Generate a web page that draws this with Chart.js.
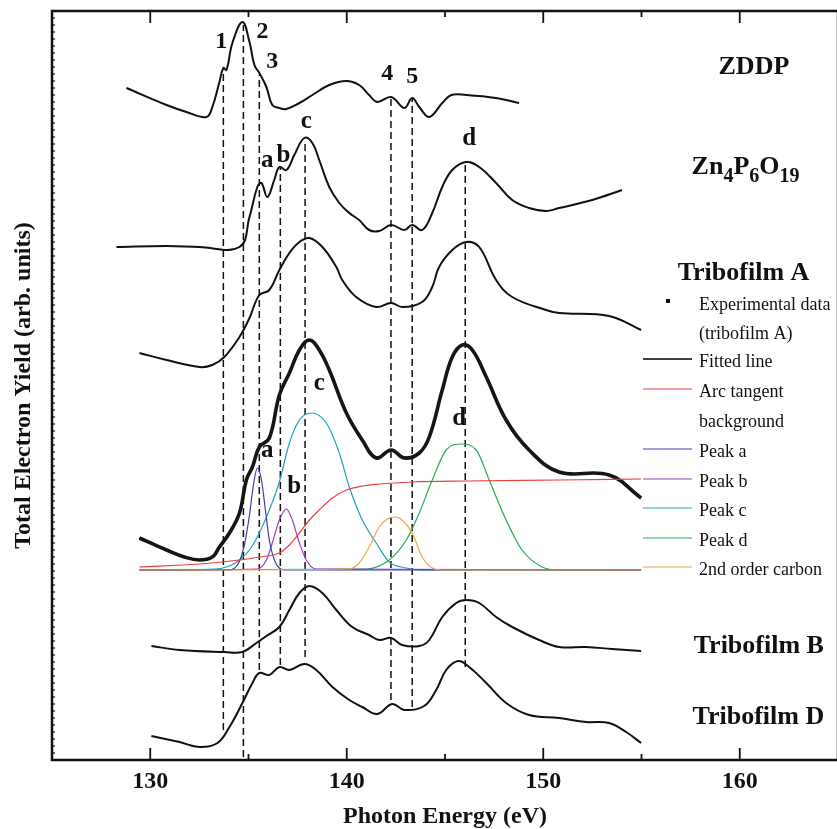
<!DOCTYPE html>
<html>
<head>
<meta charset="utf-8">
<script src="https://cdn.jsdelivr.net/npm/chart.js@4.4.1/dist/chart.umd.min.js"></script>
<style>
  html, body { margin: 0; padding: 0; overflow: hidden; background: #fff; }
  #wrap { width: 845px; height: 829px; }
</style>
</head>
<body>
<div id="wrap"><canvas id="xas" width="845" height="829"></canvas></div>
<script>
// photon energy (eV) / total electron yield (arb. units, curves stacked with offsets)
const zddpE = [128.79,130.83,131.84,132.86,133.16,133.52,133.72,133.88,134.18,134.69,135.05,135.30,135.55,135.91,136.21,136.57,136.93,137.59,138.25,139.11,139.98,140.63,141.14,141.55,142.26,142.93,143.33,143.69,144.20,144.86,145.32,146.08,147.60,148.77];
const zddpY = [67.2,65.5,64.8,64.3,65.3,67.8,69.2,69.0,71.7,73.8,71.8,69.5,68.7,67.3,65.5,65.2,65.1,65.7,66.5,67.5,67.9,67.5,66.5,65.8,66.3,65.2,66.2,65.3,64.3,65.7,66.5,66.5,66.2,65.7];

const znpE = [128.28,130.83,132.50,134.54,135.05,135.45,135.66,135.96,136.31,136.57,136.93,137.33,137.84,138.25,138.60,139.11,139.62,140.13,140.63,141.14,141.65,142.26,142.93,143.33,143.84,144.35,144.86,145.37,146.08,146.74,147.60,148.42,149.28,150.14,150.81,152.49,154.01];
const znpY = [51.3,51.4,51.3,51.3,54.3,57.3,57.7,56.3,58.0,59.3,59.0,60.5,62.2,61.7,60.0,57.3,55.7,54.7,54.0,53.0,52.9,53.5,53.0,53.5,53.0,54.7,57.3,59.0,59.8,59.3,57.7,56.0,55.2,54.9,55.2,56.0,57.0];

const triboAE = [129.45,130.83,132.50,133.16,133.77,134.54,135.05,135.55,136.06,136.57,137.08,137.59,138.10,138.76,139.47,139.77,140.48,141.50,142.26,142.82,143.84,144.35,144.70,145.37,146.08,146.74,147.60,148.42,150.14,150.81,153.35,154.98];
const triboAY = [40.7,40.0,39.3,39.5,40.3,42.3,44.2,46.5,47.0,49.0,50.7,51.8,52.2,51.3,49.3,48.0,46.3,45.3,45.7,45.3,45.8,47.3,49.3,51.0,51.8,51.3,48.0,46.3,45.0,44.7,44.4,43.0];

// tribofilm A, experimental data and fit
const expE = [129.45,130.83,131.74,132.50,133.16,133.52,134.03,134.54,134.89,135.20,135.55,136.06,136.57,137.08,137.59,138.10,138.60,139.11,139.98,140.79,141.50,142.26,142.93,143.69,144.20,144.86,145.37,145.88,146.39,147.10,148.11,149.28,150.81,153.35,154.98];
const expY = [22.2,21.0,20.3,20.0,20.3,21.3,22.7,24.7,28.0,29.3,31.3,32.2,36.5,38.7,41.0,42.0,41.0,39.0,34.7,32.0,30.2,31.0,30.2,30.7,32.3,37.0,40.3,41.5,41.0,38.3,34.0,31.0,28.8,28.5,26.2];
const fitY = [22.2,21.0,20.3,20.0,20.3,21.3,22.7,24.7,28.0,29.3,31.3,32.2,36.5,38.7,41.0,42.0,41.0,39.0,34.7,32.0,30.3,30.9,30.3,30.7,32.3,37.0,40.3,41.5,41.0,38.3,34.0,31.0,28.8,28.5,26.2];

const arcE = [129.45,132.50,134.54,135.55,136.57,137.08,137.59,138.10,138.60,139.27,139.98,140.79,141.65,143.33,146.08,150.81,154.98];
const arcY = [19.3,19.6,20.0,20.3,20.7,21.5,22.7,24.0,25.0,26.2,27.0,27.4,27.6,27.8,27.9,28.0,28.1];

const peakAE = [129.45,133.93,134.44,134.79,135.05,135.25,135.45,135.66,135.86,136.06,136.36,136.83,154.98];
const peakAY = [19.0,19.0,19.5,21.5,24.5,27.5,29.2,28.0,25.0,22.0,19.8,19.0,19.0];
const peakBE = [129.45,135.45,135.91,136.21,136.57,136.93,137.23,137.59,137.94,138.45,154.98];
const peakBY = [19.0,19.1,20.0,21.7,24.0,25.1,24.0,21.7,20.0,19.1,19.0];
const peakCE = [129.45,133.27,134.03,134.54,135.05,135.55,136.06,136.57,137.08,137.59,138.20,138.96,139.62,140.13,140.79,141.50,142.16,143.03,143.84,154.98];
const peakCY = [19.0,19.1,19.4,20.0,21.0,22.7,25.0,27.8,31.7,34.0,34.7,33.7,30.7,27.3,24.0,21.7,19.8,19.2,19.0,19.0];
const peakDE = [129.45,140.99,142.16,143.03,143.69,144.35,145.06,145.82,146.59,147.25,148.11,148.92,149.94,150.81,154.98];
const peakDY = [19.0,19.1,20.0,22.0,24.7,28.0,31.0,31.6,31.0,28.0,24.0,21.0,19.3,19.0,19.0];
const carbonE = [129.45,140.13,140.63,141.14,141.65,142.06,142.47,142.87,143.33,143.84,144.35,144.86,154.98];
const carbonY = [19.0,19.1,19.7,21.3,23.3,24.1,24.3,23.9,22.7,20.3,19.2,19.0,19.0];

const triboBE = [130.06,131.49,133.77,134.69,135.40,135.91,136.57,137.08,137.59,138.10,138.76,139.47,140.28,141.14,141.65,142.26,142.82,143.69,144.20,144.86,145.57,146.08,146.74,147.60,148.42,149.79,150.81,152.18,153.51,154.98];
const triboBY = [11.4,11.0,10.8,10.8,11.7,12.4,13.3,15.0,16.7,17.4,16.7,15.0,13.3,12.5,12.0,12.2,11.5,11.4,12.0,14.3,15.7,16.0,15.7,14.3,13.3,12.0,11.3,11.3,11.1,10.9];

const triboDE = [130.06,131.49,132.50,133.42,134.03,134.69,135.20,135.55,136.06,136.57,137.08,137.84,138.45,139.27,140.13,140.79,141.55,142.31,142.93,143.94,144.55,145.06,145.67,146.23,147.10,148.11,149.28,150.81,152.18,153.35,154.22,154.98];
const triboDY = [2.4,1.8,1.3,1.7,3.3,5.7,7.7,8.7,8.5,9.3,9.0,9.6,9.0,7.3,6.0,5.3,4.6,5.6,5.0,5.4,7.0,9.0,9.9,9.3,7.7,5.7,4.5,4.2,3.8,3.7,2.8,1.7];

// dashed guide lines through the features
const markE = [133.72,134.74,135.55,136.62,137.88,142.25,143.33,146.03];
const markTop = [69.0,73.5,68.5,59.2,62.0,66.3,66.2,59.8];
const markBottom = [3.0,0.3,9.0,9.5,10.3,6.0,5.3,9.3];

// feature labels
const featText = ['1','2','3','4','5','a','b','c','d','a','b','c','d'];
const featE = [133.61,135.71,136.21,142.06,143.33,135.96,136.78,137.94,146.23,135.96,137.33,138.60,145.72];
const featY = [71.2,72.2,69.2,68.0,67.7,59.3,59.8,63.2,61.5,30.3,26.7,37.0,33.5];

// sample names on the right
const nameText = ['ZDDP','Tribofilm A','Tribofilm B','Tribofilm D'];
const nameE = [160.72,160.19,160.97,160.95];
const nameY = [68.6,48.0,10.7,3.6];
const znpLabel = [['Zn',false],['4',true],['P',false],['6',true],['O',false],['19',true]];
const znpLabelE = 157.55, znpLabelY = 58.6;

const legendItems = [
  ['Experimental data', 'square'],
  ['(tribofilm A)', null],
  ['Fitted line', '#000000'],
  ['Arc tangent', '#e8413c'],
  ['background', null],
  ['Peak a', '#3b3fae'],
  ['Peak b', '#a23bc4'],
  ['Peak c', '#1fa3b0'],
  ['Peak d', '#27ab5a'],
  ['2nd order carbon', '#f2a43a']
];
const legendBaselines = [310, 339, 367, 397, 427, 457, 487, 516, 546, 575];

function pts(xs, ys) { return xs.map((x, i) => ({ x: x, y: ys[i] })); }

function curve(data, color, width, smooth) {
  const ds = {
    data: data, borderColor: color, borderWidth: width, pointRadius: 0, fill: false
  };
  if (smooth) ds.tension = 0.4; else ds.cubicInterpolationMode = 'monotone';
  return ds;
}

const datasets = [
  curve(pts(arcE, arcY), '#e8413c', 1.2),
  curve(pts(carbonE, carbonY), '#f2a43a', 1.2),
  curve(pts(peakAE, peakAY), '#3b3fae', 1.2),
  curve(pts(peakBE, peakBY), '#a23bc4', 1.2),
  curve(pts(peakDE, peakDY), '#27ab5a', 1.2),
  curve(pts(peakCE, peakCY), '#1fa3b0', 1.2),
  curve(pts(expE, expY), '#151515', 3.6, true),
  curve(pts(expE, fitY), '#000000', 1.4, true),
  curve(pts(zddpE, zddpY), '#111111', 2, true),
  curve(pts(znpE, znpY), '#111111', 2, true),
  curve(pts(triboAE, triboAY), '#111111', 2, true),
  curve(pts(triboBE, triboBY), '#111111', 2, true),
  curve(pts(triboDE, triboDY), '#111111', 2, true)
];
markE.forEach((e, i) => {
  datasets.push({
    data: [{ x: e, y: markBottom[i] }, { x: e, y: markTop[i] }],
    borderColor: '#111111', borderWidth: 1.5, borderDash: [7, 4], pointRadius: 0, fill: false
  });
});

const decor = {
  id: 'decor',
  afterDraw(chart) {
    const ctx = chart.ctx, a = chart.chartArea, xs = chart.scales.x, ys = chart.scales.y;
    ctx.save();
    ctx.strokeStyle = '#111';
    // frame
    ctx.lineWidth = 2.5;
    ctx.strokeRect(a.left, a.top, a.right - a.left, a.bottom - a.top);
    // inward ticks
    ctx.lineWidth = 1.8;
    xs.ticks.forEach(t => {
      if (t.value <= xs.min || t.value >= xs.max) return;
      const px = xs.getPixelForValue(t.value);
      const len = t.value % 10 === 0 ? 12 : 6;
      ctx.beginPath();
      ctx.moveTo(px, a.bottom); ctx.lineTo(px, a.bottom - len);
      ctx.moveTo(px, a.top); ctx.lineTo(px, a.top + len);
      ctx.stroke();
    });
    ctx.lineWidth = 1.2;
    ys.ticks.forEach(t => {
      const py = ys.getPixelForValue(t.value);
      ctx.beginPath(); ctx.moveTo(a.left, py); ctx.lineTo(a.left + 3, py); ctx.stroke();
    });
    // feature labels
    ctx.fillStyle = '#111';
    ctx.textAlign = 'center';
    ctx.textBaseline = 'alphabetic';
    featText.forEach((s, i) => {
      ctx.font = (/[0-9]/.test(s) ? 'bold 24px' : 'bold 25px') + ' "Liberation Serif", serif';
      ctx.fillText(s, xs.getPixelForValue(featE[i]), ys.getPixelForValue(featY[i]));
    });
    // sample names
    ctx.font = 'bold 26px "Liberation Serif", serif';
    nameText.forEach((s, i) => {
      ctx.fillText(s, xs.getPixelForValue(nameE[i]), ys.getPixelForValue(nameY[i]));
    });
    ctx.textAlign = 'left';
    let zx = xs.getPixelForValue(znpLabelE);
    const zy = ys.getPixelForValue(znpLabelY);
    znpLabel.forEach(([s, sub]) => {
      ctx.font = (sub ? 'bold 20px' : 'bold 26px') + ' "Liberation Serif", serif';
      ctx.fillText(s, zx, zy + (sub ? 8 : 0));
      zx += ctx.measureText(s).width;
    });
    // legend
    ctx.font = '18px "Liberation Serif", serif';
    legendItems.forEach(([s, mark], i) => {
      const by = legendBaselines[i];
      ctx.fillStyle = '#111';
      ctx.fillText(s, 699, by);
      if (mark === 'square') {
        ctx.fillRect(666, by - 11, 4, 4);
      } else if (mark) {
        ctx.strokeStyle = mark;
        ctx.lineWidth = mark === '#000000' ? 1.6 : 1.2;
        ctx.beginPath(); ctx.moveTo(643, by - 8); ctx.lineTo(692, by - 8); ctx.stroke();
      }
    });
    ctx.restore();
  }
};

Chart.defaults.font.family = '"Liberation Serif", "Times New Roman", serif';
Chart.defaults.color = '#111';

new Chart(document.getElementById('xas'), {
  type: 'line',
  data: { datasets: datasets },
  options: {
    responsive: false,
    animation: false,
    layout: { padding: { top: 11, right: 6, left: 0, bottom: 0 } },
    plugins: { legend: { display: false }, tooltip: { enabled: false } },
    scales: {
      x: {
        type: 'linear', min: 125, max: 165,
        grid: { display: false, drawTicks: false },
        border: { display: false },
        ticks: {
          stepSize: 5, padding: 7,
          font: { size: 24, weight: 'bold' },
          callback: v => (v % 10 === 0 ? String(v) : '')
        },
        title: {
          display: true, text: 'Photon Energy (eV)',
          font: { size: 24, weight: 'bold', lineHeight: 1.0 },
          padding: { top: 0, bottom: 0 }
        },
        afterFit: s => { s.height = 69; }
      },
      y: {
        type: 'linear', min: 0, max: 74.9,
        grid: { display: false, drawTicks: false },
        border: { display: false },
        ticks: { display: false, stepSize: 0.7 },
        title: {
          display: true, text: 'Total Electron Yield (arb. units)',
          font: { size: 24, weight: 'bold' },
          padding: { top: 9, bottom: 0 }
        },
        afterFit: s => { s.width = 52; }
      }
    }
  },
  plugins: [decor]
});
</script>
</body>
</html>
